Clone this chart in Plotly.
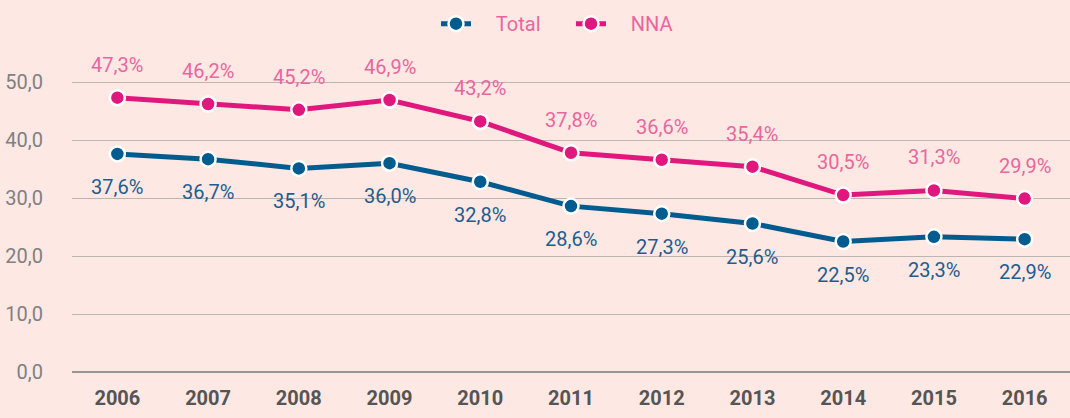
import plotly.graph_objects as go

years = ["2006", "2007", "2008", "2009", "2010", "2011", "2012", "2013", "2014", "2015", "2016"]
total = [37.6, 36.7, 35.1, 36.0, 32.8, 28.6, 27.3, 25.6, 22.5, 23.3, 22.9]
nna = [47.3, 46.2, 45.2, 46.9, 43.2, 37.8, 36.6, 35.4, 30.5, 31.3, 29.9]
y_ticks = [0, 10, 20, 30, 40, 50]
y_tick_labels = ["0,0", "10,0", "20,0", "30,0", "40,0", "50,0"]

def fmt(v):
    return f"{v:.1f}".replace(".", ",") + "%"

FONT = "Roboto, Arial, sans-serif"
BG = "#fde8e3"
BLUE = "#005b8f"
PINK = "#e0187e"
BLUE_TXT = "#1e5d90"
PINK_TXT = "#e8679f"
PAD = "\u00a0" * 4

fig = go.Figure()
fig.add_trace(go.Scatter(
    x=years, y=total, name=PAD + "Total", mode="lines+markers",
    line=dict(color=BLUE, width=5),
    marker=dict(size=15, color=BLUE, line=dict(color="white", width=2.5)),
    cliponaxis=False,
))
fig.add_trace(go.Scatter(
    x=years, y=nna, name=PAD + "NNA", mode="lines+markers",
    line=dict(color=PINK, width=5),
    marker=dict(size=15, color=PINK, line=dict(color="white", width=2.5)),
    cliponaxis=False,
))

for i, v in enumerate(total):
    fig.add_annotation(x=i, y=v, xref="x", yref="y", text=fmt(v), showarrow=False,
                       yshift=-33, font=dict(color=BLUE_TXT, size=20, family=FONT))
for i, v in enumerate(nna):
    fig.add_annotation(x=i, y=v, xref="x", yref="y", text=fmt(v), showarrow=False,
                       yshift=33, font=dict(color=PINK_TXT, size=20, family=FONT))

fig.update_layout(
    width=1070, height=418,
    paper_bgcolor=BG, plot_bgcolor=BG,
    margin=dict(l=72, r=0, t=53, b=46, autoexpand=False),
    font=dict(family=FONT),
    showlegend=True,
    legend=dict(orientation="h", x=0.5, xanchor="center", y=0.99, yanchor="top",
                yref="container", font=dict(color=PINK_TXT, size=20, family=FONT),
                entrywidth=90, entrywidthmode="pixels", bgcolor="rgba(0,0,0,0)"),
    xaxis=dict(type="category", range=[-0.5, 10.5], showgrid=False, zeroline=False,
               showline=False, ticks="",
               tickfont=dict(size=20, color="#555555", family=FONT, weight="bold"),
               ticklabelstandoff=12),
    yaxis=dict(range=[0, 55], tickvals=y_ticks, ticktext=y_tick_labels,
               showgrid=True, gridcolor="#bdb5b2", gridwidth=1.2,
               zeroline=True, zerolinecolor="#9a9593", zerolinewidth=1.5,
               showline=False, ticks="",
               tickfont=dict(size=20, color="#808080", family=FONT),
               ticklabelstandoff=28),
)
fig.write_html(
    "out.html",
    config={"displayModeBar": False},
    post_script="document.body.style.margin='0';document.body.style.background='#fde8e3';",
)
